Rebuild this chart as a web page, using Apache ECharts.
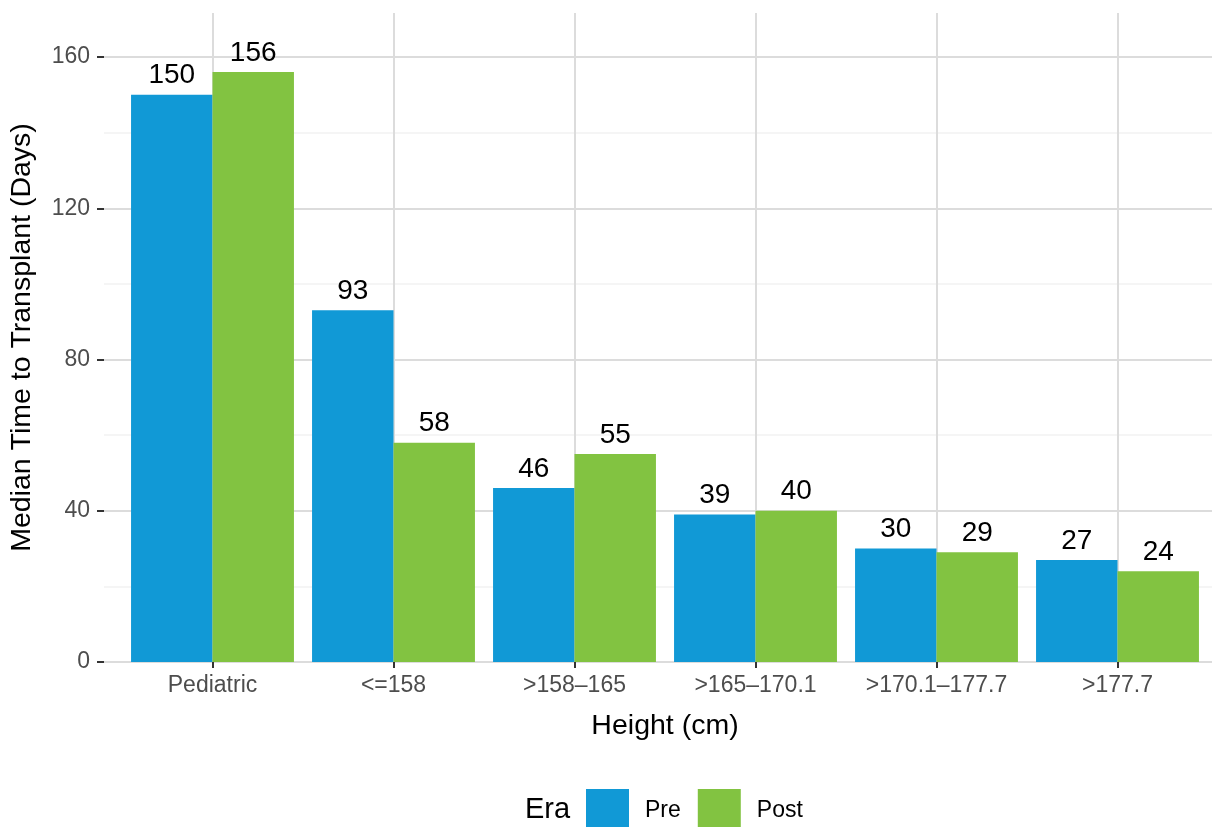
<!DOCTYPE html>
<html>
<head>
    <meta charset="utf-8">
    <title>Median Time to Transplant</title>
    <script src="https://cdn.jsdelivr.net/npm/echarts@6/dist/echarts.min.js"></script>
</head>
<body style="margin:0">
    <div id="main" style="width:1212px;height:827px;"></div>
    <script type="text/javascript">
    // data
    var categories = ['Pediatric', '<=158', '>158–165', '>165–170.1', '>170.1–177.7', '>177.7'];
    var preValues = [150, 93, 46, 39, 30, 27];
    var postValues = [156, 58, 55, 40, 29, 24];
    var yTicks = [0, 40, 80, 120, 160];

    var font = 'Liberation Sans, Arial, sans-serif';
    var myChart = echarts.init(document.getElementById('main'));

    // vertical gridlines sit on the category centres, like ggplot
    var vLines = [];
    for (var i = 0; i < categories.length; i++) {
        vLines.push({ xAxis: categories[i] });
    }

    var option = {
        animation: false,
        textStyle: { fontFamily: font },
        title: {
            text: 'Era',
            left: 525,
            top: 795,
            padding: 0,
            textStyle: { fontFamily: font, fontSize: 29, fontWeight: 'normal', color: '#000' }
        },
        legend: {
            data: ['Pre', 'Post'],
            left: 586,
            top: 789,
            padding: 0,
            icon: 'rect',
            itemWidth: 43,
            itemHeight: 43,
            itemGap: 17,
            textStyle: { fontFamily: font, fontSize: 23, color: '#000', padding: [0, 0, 0, 11] }
        },
        grid: [
            // wide panel for horizontal gridlines and y labels
            { left: 104, right: 0, top: 57, bottom: 165 },
            // bar panel
            { left: 122, right: 4, top: 13, bottom: 165 }
        ],
        xAxis: [{
            gridIndex: 0,
            type: 'value',
            min: 0,
            max: 1,
            show: false
        }, {
            gridIndex: 1,
            type: 'category',
            data: categories,
            name: 'Height (cm)',
            nameLocation: 'middle',
            nameGap: 50,
            nameTextStyle: { fontFamily: font, fontSize: 28.5, color: '#000' },
            axisLine: { show: false },
            axisTick: { show: true, interval: 0, alignWithLabel: true, length: 6, lineStyle: { color: '#333', width: 2 } },
            axisLabel: { interval: 0, fontFamily: font, fontSize: 23, color: '#4D4D4D', margin: 12 },
            splitLine: { show: false }
        }],
        yAxis: [{
            gridIndex: 0,
            type: 'value',
            min: yTicks[0],
            max: yTicks[yTicks.length - 1],
            interval: 40,
            axisLine: { show: false },
            axisTick: { show: true, length: 7, lineStyle: { color: '#333', width: 2 } },
            axisLabel: { fontFamily: font, fontSize: 23, color: '#4D4D4D', margin: 14 },
            splitLine: { show: true, lineStyle: { color: '#DCDCDC', width: 2 } },
            minorTick: { show: false, splitNumber: 2 },
            minorSplitLine: { show: true, lineStyle: { color: '#F2F2F2', width: 1.5 } }
        }, {
            gridIndex: 1,
            type: 'value',
            min: 0,
            max: 171.6,
            name: 'Median Time to Transplant (Days)',
            nameLocation: 'middle',
            nameRotate: 90,
            nameGap: 85,
            nameTextStyle: { fontFamily: font, fontSize: 28.5, color: '#000' },
            axisLine: { show: false },
            axisTick: { show: false },
            axisLabel: { show: false },
            splitLine: { show: false }
        }],
        series: [{
            name: 'grid',
            type: 'line',
            xAxisIndex: 1,
            yAxisIndex: 1,
            z: 0,
            data: [],
            markLine: {
                z: 0,
                silent: true,
                symbol: 'none',
                label: { show: false },
                lineStyle: { color: '#DCDCDC', width: 2, type: 'solid' },
                data: vLines
            }
        }, {
            name: 'Pre',
            type: 'bar',
            xAxisIndex: 1,
            yAxisIndex: 1,
            z: 3,
            barGap: '0%',
            barCategoryGap: '10%',
            itemStyle: { color: '#1199D6' },
            label: { show: true, position: 'top', distance: 5, fontFamily: font, fontSize: 28, color: '#000' },
            data: preValues
        }, {
            name: 'Post',
            type: 'bar',
            xAxisIndex: 1,
            yAxisIndex: 1,
            z: 3,
            barGap: '0%',
            barCategoryGap: '10%',
            itemStyle: { color: '#82C341' },
            label: { show: true, position: 'top', distance: 5, fontFamily: font, fontSize: 28, color: '#000' },
            data: postValues
        }]
    };

    myChart.setOption(option);
    </script>
</body>
</html>
